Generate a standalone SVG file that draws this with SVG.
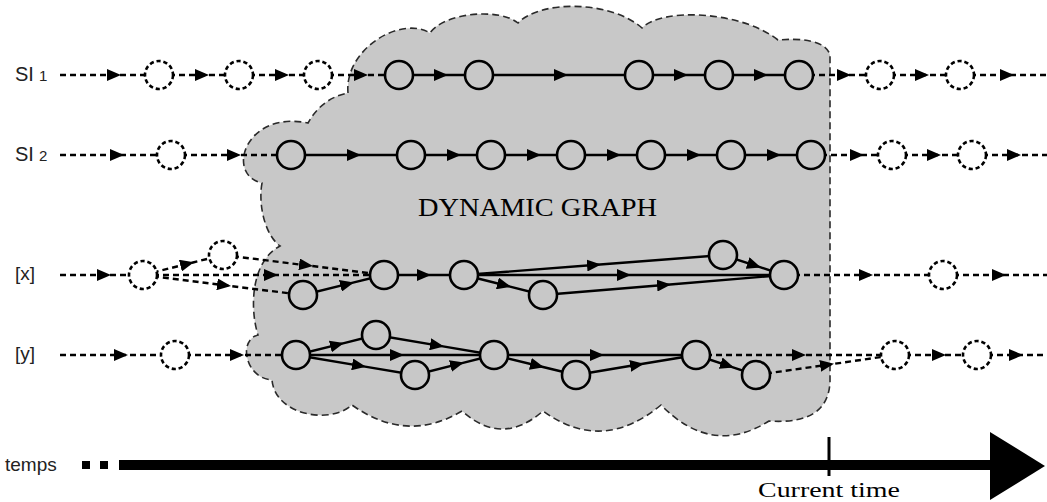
<svg xmlns="http://www.w3.org/2000/svg" width="1047" height="502" viewBox="0 0 1047 502">
<style>
.cloud{fill:#c8c8c8;stroke:#2a2a2a;stroke-width:1.6;stroke-dasharray:7 4}
.e{fill:none;stroke:#000;stroke-width:2.4;marker-mid:url(#ah)}
.d{stroke-dasharray:6 4}
.n{fill:#c8c8c8;stroke:#000;stroke-width:2.6}
.dn{fill:#fff;stroke:#000;stroke-width:2.6;stroke-dasharray:4.2 2.8}
.lab{font-family:"Liberation Sans",Arial,sans-serif;fill:#222}
.ser{font-family:"Liberation Serif","Times New Roman",serif;fill:#000}
</style>
<defs>
<marker id="ah" markerUnits="userSpaceOnUse" markerWidth="14" markerHeight="12" refX="13" refY="6" orient="auto" viewBox="0 0 14 12">
<path d="M0,0 L14,6 L0,12 Z" fill="#000" stroke="none"/>
</marker>
</defs>
<rect width="1047" height="502" fill="#fff"/>
<g id="cloud">
<path class="cloud" d="M348,93 C344,50 400,15 430,33 C445,12 500,8 518,23 C540,0 610,0 642,28 C660,8 740,10 778,40 C800,38 826,40 830,55 L830,382 Q828,425 769,421 Q712,457 661,405 Q602,454 543,411 Q502,447 462,411 Q407,444 352,405 C330,425 275,415 272,380 C245,378 238,340 258,335 C250,310 250,262 280,246 C265,235 258,205 262,183 C225,175 245,110 308,123 Q322,98 348,93 Z"/>
</g>
<g id="connectors">
<path class="e d" d="M60,75 L120,75 L159,75"/>
<path class="e d" d="M159,75 L208,75 L239,75"/>
<path class="e d" d="M239,75 L288,75 L318,75"/>
<path class="e d" d="M318,75 L367,75 L399,75"/>
<path class="e" d="M399,75 L447,75 L479,75"/>
<path class="e" d="M479,75 L567,75 L639,75"/>
<path class="e" d="M639,75 L687,75 L719,75"/>
<path class="e" d="M719,75 L767,75 L799,75"/>
<path class="e d" d="M799,75 L850,75 L880,75"/>
<path class="e d" d="M880,75 L928,75 L960,75"/>
<path class="e d" d="M960,75 L1013,75 L1047,75"/>
<path class="e d" d="M60,155 L123,155 L171,155"/>
<path class="e d" d="M171,155 L240,155 L291,155"/>
<path class="e" d="M291,155 L360,155 L411,155"/>
<path class="e" d="M411,155 L460,155 L491,155"/>
<path class="e" d="M491,155 L540,155 L571,155"/>
<path class="e" d="M571,155 L620,155 L651,155"/>
<path class="e" d="M651,155 L700,155 L731,155"/>
<path class="e" d="M731,155 L780,155 L811,155"/>
<path class="e d" d="M811,155 L863,155 L892,155"/>
<path class="e d" d="M892,155 L940,155 L972,155"/>
<path class="e d" d="M972,155 L1020,155 L1047,155"/>
<path class="e d" d="M60,275 L110,275 L143,275"/>
<path class="e d" d="M143,275 L193,262.5 L223,255"/>
<path class="e d" d="M143,275 L277,275 L384,275"/>
<path class="e d" d="M143,275 L230,286 L303,295"/>
<path class="e d" d="M223,255 L312,266 L384,275"/>
<path class="e" d="M303,295 L353,282.7 L384,275"/>
<path class="e" d="M384,275 L430,275 L464,275"/>
<path class="e" d="M464,275 L600,264.5 L723,255"/>
<path class="e" d="M464,275 L630,275 L784,275"/>
<path class="e" d="M464,275 L510,286.6 L543,295"/>
<path class="e" d="M543,295 L670,284.5 L784,275"/>
<path class="e" d="M723,255 L760,267.1 L784,275"/>
<path class="e d" d="M784,275 L872,275 L943,275"/>
<path class="e d" d="M943,275 L1005,275 L1047,275"/>
<path class="e d" d="M60,355 L127,355 L175,355"/>
<path class="e d" d="M175,355 L243,355 L296,355"/>
<path class="e" d="M296,355 L343,343.3 L376,335"/>
<path class="e" d="M296,355 L403,355 L494,355"/>
<path class="e" d="M296,355 L365,366.6 L415,375"/>
<path class="e" d="M376,335 L443,346.4 L494,355"/>
<path class="e" d="M415,375 L463,362.8 L494,355"/>
<path class="e" d="M494,355 L603,355 L696,355"/>
<path class="e" d="M494,355 L543,367 L576,375"/>
<path class="e" d="M576,375 L643,363.8 L696,355"/>
<path class="e" d="M696,355 L733,367.3 L756,375"/>
<path class="e d" d="M696,355 L805,355 L895,355"/>
<path class="e d" d="M756,375 L833,364 L895,355"/>
<path class="e d" d="M895,355 L945,355 L977,355"/>
<path class="e d" d="M977,355 L1022,355 L1047,355"/>
</g>
<g id="nodes-si1">
<g id="si1-p1"><circle class="dn" cx="159" cy="75" r="14"/></g>
<g id="si1-p2"><circle class="dn" cx="239" cy="75" r="14"/></g>
<g id="si1-p3"><circle class="dn" cx="318" cy="75" r="14"/></g>
<g id="si1-n1"><circle class="n" cx="399" cy="75" r="14"/></g>
<g id="si1-n2"><circle class="n" cx="479" cy="75" r="14"/></g>
<g id="si1-n3"><circle class="n" cx="639" cy="75" r="14"/></g>
<g id="si1-n4"><circle class="n" cx="719" cy="75" r="14"/></g>
<g id="si1-n5"><circle class="n" cx="799" cy="75" r="14"/></g>
<g id="si1-f1"><circle class="dn" cx="880" cy="75" r="14"/></g>
<g id="si1-f2"><circle class="dn" cx="960" cy="75" r="14"/></g>
</g>
<g id="nodes-si2">
<g id="si2-p1"><circle class="dn" cx="171" cy="155" r="14"/></g>
<g id="si2-n1"><circle class="n" cx="291" cy="155" r="14"/></g>
<g id="si2-n2"><circle class="n" cx="411" cy="155" r="14"/></g>
<g id="si2-n3"><circle class="n" cx="491" cy="155" r="14"/></g>
<g id="si2-n4"><circle class="n" cx="571" cy="155" r="14"/></g>
<g id="si2-n5"><circle class="n" cx="651" cy="155" r="14"/></g>
<g id="si2-n6"><circle class="n" cx="731" cy="155" r="14"/></g>
<g id="si2-n7"><circle class="n" cx="811" cy="155" r="14"/></g>
<g id="si2-f1"><circle class="dn" cx="892" cy="155" r="14"/></g>
<g id="si2-f2"><circle class="dn" cx="972" cy="155" r="14"/></g>
</g>
<g id="nodes-x">
<g id="x-p1"><circle class="dn" cx="143" cy="275" r="14"/></g>
<g id="x-p2"><circle class="dn" cx="223" cy="255" r="14"/></g>
<g id="x-n1"><circle class="n" cx="303" cy="295" r="14"/></g>
<g id="x-n2"><circle class="n" cx="384" cy="275" r="14"/></g>
<g id="x-n3"><circle class="n" cx="464" cy="275" r="14"/></g>
<g id="x-n4"><circle class="n" cx="543" cy="295" r="14"/></g>
<g id="x-n5"><circle class="n" cx="723" cy="255" r="14"/></g>
<g id="x-n6"><circle class="n" cx="784" cy="275" r="14"/></g>
<g id="x-f1"><circle class="dn" cx="943" cy="275" r="14"/></g>
</g>
<g id="nodes-y">
<g id="y-p1"><circle class="dn" cx="175" cy="355" r="14"/></g>
<g id="y-n1"><circle class="n" cx="296" cy="355" r="14"/></g>
<g id="y-n2"><circle class="n" cx="376" cy="335" r="14"/></g>
<g id="y-n3"><circle class="n" cx="415" cy="375" r="14"/></g>
<g id="y-n4"><circle class="n" cx="494" cy="355" r="14"/></g>
<g id="y-n5"><circle class="n" cx="576" cy="375" r="14"/></g>
<g id="y-n6"><circle class="n" cx="696" cy="355" r="14"/></g>
<g id="y-n7"><circle class="n" cx="756" cy="375" r="14"/></g>
<g id="y-f1"><circle class="dn" cx="895" cy="355" r="14"/></g>
<g id="y-f2"><circle class="dn" cx="977" cy="355" r="14"/></g>
</g>
<g id="labels">
<text class="lab" x="15" y="81" font-size="20">SI<tspan font-size="15" dx="5">1</tspan></text>
<text class="lab" x="15" y="161" font-size="20">SI<tspan font-size="15" dx="5">2</tspan></text>
<text class="lab" x="15" y="280" font-size="19">[x]</text>
<text class="lab" x="15" y="360" font-size="19">[y]</text>
<text class="ser" x="418" y="216" font-size="25" textLength="239" lengthAdjust="spacingAndGlyphs">DYNAMIC GRAPH</text>
</g>
<g id="timeline">
<text class="lab" x="5" y="471" font-size="19">temps</text>
<rect x="82" y="461" width="8" height="8" fill="#000"/>
<rect x="100" y="461" width="8" height="8" fill="#000"/>
<rect x="119" y="460" width="875" height="10" fill="#000"/>
<polygon points="990,432 1045,466 990,500" fill="#000"/>
<line x1="829" y1="437" x2="829" y2="476" stroke="#000" stroke-width="3"/>
<text class="ser" x="758" y="497" font-size="21" textLength="142" lengthAdjust="spacingAndGlyphs">Current time</text>
</g>
</svg>
